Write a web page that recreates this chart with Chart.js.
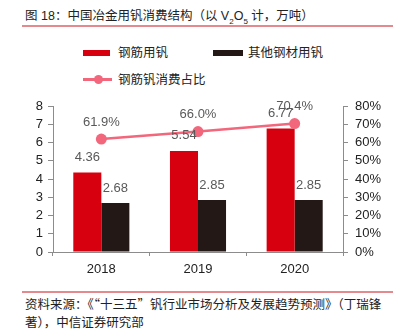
<!DOCTYPE html>
<html>
<head>
<meta charset="utf-8">
<script src="https://cdn.jsdelivr.net/npm/chart.js@4"></script>
<style>
    body { margin: 0; background: #fff; font-family: "Liberation Sans", Arial, "Noto Sans CJK SC", sans-serif; color: #222; }
    #page { position: relative; width: 406px; height: 332px; overflow: hidden; }
    #chart { position: absolute; left: 0; top: 0; }
    .txt { position: absolute; font-size: 12.5px; line-height: 16px; white-space: nowrap; }
    .txt sub { font-size: 8px; line-height: 0; }
    .cjk { font-family: "Noto Sans CJK SC", sans-serif; }
    .rule { position: absolute; left: 22px; width: 371px; height: 1.5px; background: #E48A8E; }
    .sw { position: absolute; }
</style>
</head>
<body>
<div id="page">
    <div class="txt" style="left:25px; top:8px;">图 18：中国冶金用钒消费结构（以 V<sub>2</sub>O<sub>5</sub> 计，万吨）</div>
    <div class="rule" style="top:25px;"></div>

    <!-- legend -->
    <div class="sw" style="left:83px; top:50px; width:27px; height:6px; background:#D7000F;"></div>
    <div class="txt" style="left:118px; top:45px;">钢筋用钒</div>
    <div class="sw" style="left:213px; top:50px; width:30px; height:6px; background:#231815;"></div>
    <div class="txt" style="left:248px; top:45px;">其他钢材用钒</div>
    <div class="sw" style="left:83px; top:78px; width:29px; height:2.5px; background:#F2677B;"></div>
    <div class="sw" style="left:94px; top:75px; width:9px; height:9px; border-radius:50%; background:#F2677B;"></div>
    <div class="txt" style="left:118px; top:72px;">钢筋钒消费占比</div>

    <canvas id="chart" width="406" height="290"></canvas>

    <div class="rule" style="top:291px;"></div>
    <div class="txt cjk" style="left:25px; top:296px;">资料来源：《“十三五”钒行业市场分析及发展趋势预测》（丁瑞锋</div>
    <div class="txt cjk" style="left:25px; top:314px;">著），中信证券研究部</div>
</div>
<script>
// Data
const years = ['2018', '2019', '2020'];
const rebarVanadium = [4.36, 5.54, 6.77];
const otherSteelVanadium = [2.68, 2.85, 2.85];
const rebarShare = [0.619, 0.660, 0.704];

const COLORS = {
    red: '#D7000F',
    black: '#231815',
    pink: '#F2677B',
    axis: '#8C8C8C',
    label: '#595959',
    tick: '#222222'
};
const tickFont = { family: '"Liberation Sans", Arial, sans-serif', size: 13 };

// Value labels drawn above bars and points
const valueLabels = {
    id: 'valueLabels',
    afterDatasetsDraw(chart) {
        const ctx = chart.ctx;
        ctx.save();
        ctx.font = '13px "Liberation Sans", Arial, sans-serif';
        ctx.fillStyle = COLORS.label;
        ctx.textAlign = 'center';
        ctx.textBaseline = 'middle';
        chart.data.datasets.forEach((ds, i) => {
            const meta = chart.getDatasetMeta(i);
            meta.data.forEach((el, j) => {
                const v = ds.data[j];
                if (ds.type === 'line') {
                    ctx.fillText((v * 100).toFixed(1) + '%', el.x, el.y - 17);
                } else {
                    ctx.fillText(v.toFixed(2), el.x, el.y - 15);
                }
            });
        });
        ctx.restore();
    }
};

new Chart(document.getElementById('chart').getContext('2d'), {
    data: {
        labels: years,
        datasets: [{
            type: 'line',
            label: '钢筋钒消费占比',
            data: rebarShare,
            yAxisID: 'y1',
            borderColor: COLORS.pink,
            backgroundColor: COLORS.pink,
            borderWidth: 2.5,
            pointRadius: 5.5,
            pointHoverRadius: 5.5,
            pointBorderWidth: 0,
            order: 0
        }, {
            type: 'bar',
            label: '钢筋用钒',
            data: rebarVanadium,
            yAxisID: 'y',
            backgroundColor: COLORS.red,
            categoryPercentage: 0.58,
            barPercentage: 1.0,
            order: 1
        }, {
            type: 'bar',
            label: '其他钢材用钒',
            data: otherSteelVanadium,
            yAxisID: 'y',
            backgroundColor: COLORS.black,
            categoryPercentage: 0.58,
            barPercentage: 1.0,
            order: 1
        }]
    },
    options: {
        responsive: false,
        animation: false,
        layout: { padding: { top: 106, left: 0, right: 0, bottom: 0 } },
        plugins: {
            legend: { display: false },
            tooltip: { enabled: false }
        },
        scales: {
            x: {
                grid: { drawOnChartArea: false, tickLength: 4, color: COLORS.axis, offset: true },
                border: { color: COLORS.axis },
                ticks: { color: COLORS.tick, font: tickFont, padding: 6 },
                afterFit: scale => { scale.height = 38; }
            },
            y: {
                position: 'left',
                min: 0,
                max: 8,
                grid: { drawOnChartArea: false, tickLength: 5, color: COLORS.axis },
                border: { color: COLORS.axis },
                ticks: { stepSize: 1, autoSkip: false, color: COLORS.tick, font: tickFont, padding: 5 },
                afterFit: scale => { scale.width = 53; }
            },
            y1: {
                position: 'right',
                min: 0,
                max: 0.8,
                grid: { drawOnChartArea: false, tickLength: 5, color: COLORS.axis },
                border: { color: COLORS.axis },
                ticks: {
                    stepSize: 0.1,
                    autoSkip: false,
                    color: COLORS.tick,
                    font: tickFont,
                    padding: 7,
                    callback: value => Math.round(value * 100) + '%'
                },
                afterFit: scale => { scale.width = 63; }
            }
        }
    },
    plugins: [valueLabels]
});
</script>
</body>
</html>
